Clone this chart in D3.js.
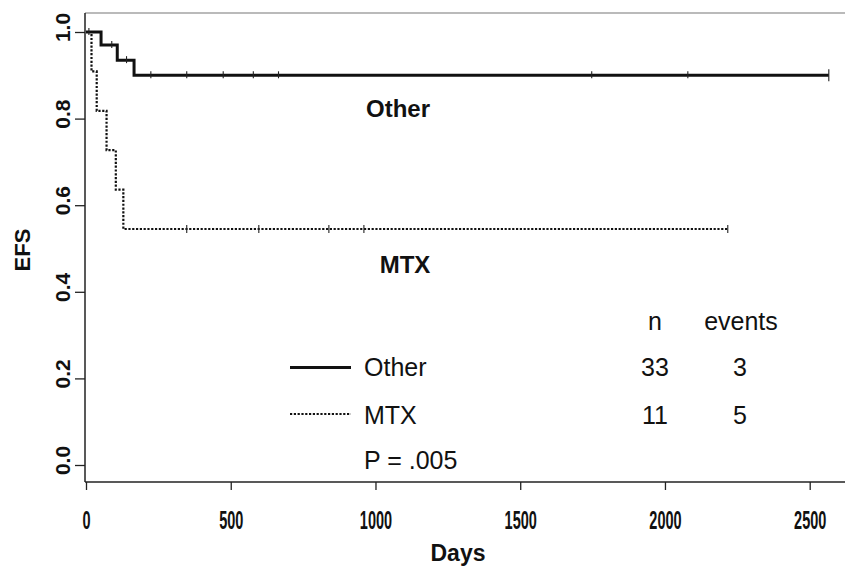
<!DOCTYPE html>
<html>
<head>
<meta charset="utf-8">
<script src="https://cdn.jsdelivr.net/npm/d3@7"></script>
<style>
  html, body { margin: 0; padding: 0; background: #fff; }
  svg { display: block; }
  text { font-family: "Liberation Sans", Arial, Helvetica, sans-serif; fill: #111; }
</style>
</head>
<body>
<svg id="chart" width="845" height="567"></svg>
<script>
// ---- data ----
const otherTimes = [0, 52, 108, 166, 2566];
const otherSurv  = [1.0, 0.97, 0.935, 0.90, 0.90];
const otherCensor = [10, 89, 140, 224, 348, 474, 578, 665, 1747, 2079, 2566];

const mtxTimes = [0, 19, 37, 71, 103, 129, 2217];
const mtxSurv  = [1.0, 0.909, 0.818, 0.727, 0.636, 0.545, 0.545];
const mtxCensor = [348, 597, 839, 960, 2217];

const xTicks = [0, 500, 1000, 1500, 2000, 2500];
const yTicks = [0.0, 0.2, 0.4, 0.6, 0.8, 1.0];

const legendNames = ["Other", "MTX"];
const legendN = [33, 11];
const legendEvents = [3, 5];
const pText = "P = .005";

// ---- chart ----
const svg = d3.select("#chart");
const x = d3.scaleLinear().domain([0, 2500]).range([86, 809.7]);
const y = d3.scaleLinear().domain([0, 1]).range([465, 32]);

const leftX = 85, bottomY = 482, topY = 13, rightX = 845;

// frame
svg.append("line").attr("x1", leftX).attr("x2", rightX).attr("y1", topY).attr("y2", topY)
  .attr("stroke", "#777").attr("stroke-width", 1.2);
svg.append("line").attr("x1", leftX).attr("x2", leftX).attr("y1", topY).attr("y2", bottomY)
  .attr("stroke", "#222").attr("stroke-width", 1.5);
svg.append("line").attr("x1", leftX).attr("x2", rightX).attr("y1", bottomY).attr("y2", bottomY)
  .attr("stroke", "#222").attr("stroke-width", 1.5);

// y axis
const yAxis = svg.append("g").attr("transform", `translate(${leftX},0)`)
  .call(d3.axisLeft(y).tickValues(yTicks).tickSize(10).tickFormat(d3.format(".1f")));
yAxis.attr("font-size", 21).attr("font-family", "'Liberation Sans', Arial, sans-serif");
yAxis.select(".domain").remove();
yAxis.selectAll(".tick line").attr("stroke", "#222").attr("stroke-width", 1.3);
yAxis.selectAll(".tick text")
  .attr("x", null).attr("dy", null).attr("y", null)
  .attr("transform", "translate(-15,-5) rotate(-90)")
  .attr("text-anchor", "middle")
  .attr("font-size", 21).style("font-size", "21px").style("font-weight", "bold")
  .attr("fill", "#111");

// x axis
const xAxis = svg.append("g").attr("transform", `translate(0,${bottomY})`)
  .call(d3.axisBottom(x).tickValues(xTicks).tickSize(8).tickFormat(d3.format("d")));
xAxis.attr("font-size", 25).attr("font-family", "'Liberation Sans', Arial, sans-serif");
xAxis.select(".domain").remove();
xAxis.selectAll(".tick line").attr("stroke", "#222").attr("stroke-width", 1.3);
xAxis.selectAll(".tick text")
  .attr("y", null).attr("dy", null)
  .attr("transform", "translate(0,47) scale(0.58,1)")
  .attr("text-anchor", "middle")
  .attr("font-size", 25).style("font-size", "25px").style("font-weight", "bold")
  .attr("fill", "#111");

// axis titles
svg.append("text").attr("x", 458).attr("y", 561).attr("text-anchor", "middle")
  .style("font-size", "23px").style("font-weight", "bold").text("Days");
svg.append("text").attr("transform", "translate(30,250) rotate(-90)").attr("text-anchor", "middle")
  .style("font-size", "22px").style("font-weight", "bold").text("EFS");

// curves
const line = d3.line().x(d => x(d[0])).y(d => y(d[1])).curve(d3.curveStepAfter);
const otherPts = otherTimes.map((t, i) => [t, otherSurv[i]]);
const mtxPts = mtxTimes.map((t, i) => [t, mtxSurv[i]]);

svg.append("path").datum(mtxPts).attr("d", line).attr("fill", "none")
  .attr("stroke", "#111").attr("stroke-width", 2.2).attr("stroke-dasharray", "2.2,1.6");
svg.append("path").datum(otherPts).attr("d", line).attr("fill", "none")
  .attr("stroke", "#111").attr("stroke-width", 3);

function survAt(times, surv, t) {
  let s = surv[0];
  for (let i = 0; i < times.length; i++) if (times[i] <= t) s = surv[i];
  return s;
}
svg.selectAll(".cO").data(otherCensor).enter().append("line")
  .attr("x1", d => x(d)).attr("x2", d => x(d))
  .attr("y1", (d, i) => y(survAt(otherTimes, otherSurv, d)) - (i === otherCensor.length - 1 ? 6 : 4))
  .attr("y2", (d, i) => y(survAt(otherTimes, otherSurv, d)) + (i === otherCensor.length - 1 ? 6 : 3))
  .attr("stroke", "#222").attr("stroke-width", 1.1);
svg.selectAll(".cM").data(mtxCensor).enter().append("line")
  .attr("x1", d => x(d)).attr("x2", d => x(d))
  .attr("y1", d => y(survAt(mtxTimes, mtxSurv, d)) - 4)
  .attr("y2", d => y(survAt(mtxTimes, mtxSurv, d)) + 4)
  .attr("stroke", "#222").attr("stroke-width", 1.1);

// curve labels
svg.append("text").attr("x", 398).attr("y", 117).attr("text-anchor", "middle")
  .style("font-size", "24px").style("font-weight", "bold").text(legendNames[0]);
svg.append("text").attr("x", 405).attr("y", 273).attr("text-anchor", "middle")
  .style("font-size", "24px").style("font-weight", "bold").text(legendNames[1]);

// legend
svg.append("text").attr("x", 655).attr("y", 330).attr("text-anchor", "middle")
  .style("font-size", "25px").text("n");
svg.append("text").attr("x", 741).attr("y", 330).attr("text-anchor", "middle")
  .style("font-size", "25px").text("events");

const rowBase = [376, 424];
const rowLine = [367.5, 414];
legendNames.forEach((name, i) => {
  svg.append("line").attr("x1", 290).attr("x2", 351).attr("y1", rowLine[i]).attr("y2", rowLine[i])
    .attr("stroke", "#111").attr("stroke-width", i === 0 ? 3 : 2.2)
    .attr("stroke-dasharray", i === 0 ? null : "2.2,1.6");
  svg.append("text").attr("x", 364).attr("y", rowBase[i]).style("font-size", "25px").text(name);
  svg.append("text").attr("x", 655).attr("y", rowBase[i]).attr("text-anchor", "middle")
    .style("font-size", "25px").text(legendN[i]);
  svg.append("text").attr("x", 740).attr("y", rowBase[i]).attr("text-anchor", "middle")
    .style("font-size", "25px").text(legendEvents[i]);
});
svg.append("text").attr("x", 364).attr("y", 469).style("font-size", "25px").text(pText);
</script>
</body>
</html>
